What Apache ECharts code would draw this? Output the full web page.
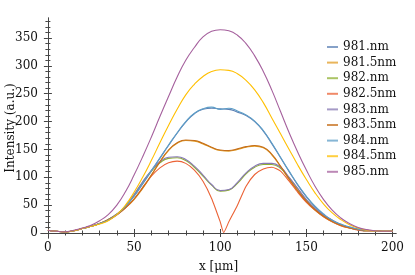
<!DOCTYPE html>
<html>
<head>
<meta charset="utf-8">
<script src="https://cdn.jsdelivr.net/npm/echarts@6/dist/echarts.min.js"></script>
<style>html,body{margin:0;padding:0;background:#fff}#c{width:415px;height:275px}</style>
</head>
<body>
<div id="c"></div>
<script>
// ---- data ----
var xs = [0,5,10,15,20,25,30,35,40,45,50,55,60,65,70,75,80,85,90,95,100,105,110,115,120,125,130,135,140,145,150,155,160,165,170,175,180,185,190,195,200];
var xsRed = [0,5,10,15,20,25,30,35,40,45,50,55,60,65,70,75,80,85,90,95,100,102,105,110,115,120,125,130,135,140,145,150,155,160,165,170,175,180,185,190,195,200];

var s981  = [5,3,2,4,8,12,17,23,33,48,66,88,111,134,157,179,199,214,222,224,223,222,217,211,200,183,160,135,110,86,65,47,33,23,15,10,7,5,4,3,3];
var s9815 = [5,3,2,4,8,12,17,24,33,45,60,80,103,127,148,161,166,165,160,153,148,147,150,154,156,153,140,119,96,75,56,41,29,20,13,9,6,4,4,3,3];
var s982  = [5,3,2,4,8,12,17,24,34,48,68,91,111,126,134,135,130,118,102,86,75,77,89,106,118,123,123,116,99,79,59,43,31,22,15,10,6,4,4,3,3];
var s9825 = [5,3,2,4,8,12,17,23,32,45,61,82,102,117,126,129,125,113,93,62,20,1,20,50,84,105,115,118,111,93,73,55,41,29,20,13,9,5,4,4,3,3];
var s983  = [5,3,2,4,8,12,17,24,34,48,69,92,112,128,136,137,132,120,104,87,76,78,91,108,120,125,125,118,100,80,60,44,32,23,15,10,6,4,4,3,3];
var s9835 = [5,3,2,4,8,12,17,24,33,45,61,81,104,128,149,162,167,166,161,154,149,148,151,155,157,154,141,120,97,76,57,42,30,21,14,9,6,4,4,3,3];
var s984  = [5,3,2,4,8,12,17,23,33,48,66,89,112,135,158,180,200,215,223,226,222,224,219,212,201,184,161,136,111,87,66,48,34,23,16,11,7,5,4,3,3];
var s9845 = [5,3,2,4,8,12,16,22,33,50,73,100,130,162,193,222,248,267,281,290,293,292,286,274,257,234,206,178,150,122,96,72,52,36,24,15,9,5,4,3,3];
var s985  = [5,3,2,5,9,14,22,33,50,74,104,137,172,209,245,280,310,333,352,362,365,363,355,340,318,290,256,218,180,145,113,84,60,41,27,17,10,6,4,3,3];

var names = ['981.nm','981.5nm','982.nm','982.5nm','983.nm','983.5nm','984.nm','984.5nm','985.nm'];
var values = [s981,s9815,s982,s9825,s983,s9835,s984,s9845,s985];
var colors = ['#5E81B5','#E19C24','#8FB032','#EB6235','#8778B3','#C56E1A','#5D9EC7','#FFBF00','#A5609D'];

var xMajor = [0,50,100,150,200];
var xMinor = [10,20,30,40,60,70,80,90,110,120,130,140,160,170,180,190];
var yMajor = [0,50,100,150,200,250,300,350];
var yMinor = [-10,10,20,30,40,60,70,80,90,110,120,130,140,160,170,180,190,210,220,230,240,260,270,280,290,310,320,330,340,360,370,380];

var X_MIN = -4, X_MAX = 202, Y_MIN = -9, Y_MAX = 386;
var FONT = "DejaVu Serif";
var FS = 12;
var frameColor = '#444';

function pairs(xv, yv){ var out=[]; for (var i=0;i<yv.length;i++) out.push([xv[i], yv[i]]); return out; }

function mkX(pos, ticks, len, labels, line){
  return {type:'value', min:X_MIN, max:X_MAX, position:pos,
    axisLine:{show:line, lineStyle:{color:frameColor, width:1}},
    axisTick:{show:true, inside:true, length:len, customValues:ticks, lineStyle:{color:frameColor}},
    axisLabel:{show:labels, customValues:ticks, color:'#111', fontFamily:FONT, fontSize:FS, margin:4},
    splitLine:{show:false}};
}
function mkY(pos, ticks, len, labels, line){
  return {type:'value', min:Y_MIN, max:Y_MAX, position:pos,
    axisLine:{show:line, lineStyle:{color:frameColor, width:1}},
    axisTick:{show:true, inside:true, length:len, customValues:ticks, lineStyle:{color:frameColor}},
    axisLabel:{show:labels, customValues:ticks, color:'#111', fontFamily:FONT, fontSize:FS, margin:3},
    splitLine:{show:false}};
}

var xAxes = [mkX('bottom', xMajor, 4, true, true), mkX('bottom', xMinor, 2.5, false, false),
             mkX('top', xMajor, 4, false, true), mkX('top', xMinor, 2.5, false, false)];
xAxes[0].name = 'x [μm]'; xAxes[0].nameLocation = 'middle'; xAxes[0].nameGap = 23;
xAxes[0].nameMoveOverlap = false;
xAxes[0].nameTextStyle = {color:'#111', fontFamily:FONT, fontSize:FS};
var yAxes = [mkY('left', yMajor, 4, true, true), mkY('left', yMinor, 2.5, false, false),
             mkY('right', yMajor, 4, false, true), mkY('right', yMinor, 2.5, false, false)];
yAxes[0].name = 'Intensity (a.u.)'; yAxes[0].nameLocation = 'middle'; yAxes[0].nameGap = 24;
yAxes[0].nameMoveOverlap = false;
yAxes[0].nameTextStyle = {color:'#111', fontFamily:FONT, fontSize:FS};

var series = names.map(function(n, i){
  return {name:n, type:'line', xAxisIndex:0, yAxisIndex:0,
    data: pairs(i===3 ? xsRed : xs, values[i]),
    showSymbol:false, symbol:'none', smooth: i===3 ? 0.2 : 0.5,
    lineStyle:{color:colors[i], width:1.1}, itemStyle:{color:colors[i]}};
});

var chart = echarts.init(document.getElementById('c'), null, {renderer:'canvas'});
chart.setOption({
  animation:false,
  color: colors,
  grid:{left:41, right:19, top:18, bottom:37, containLabel:false, outerBoundsMode:'none'},
  xAxis: xAxes,
  yAxis: yAxes,
  legend:{orient:'vertical', left:322, top:35.5, icon:'rect', itemWidth:11, itemHeight:2, itemGap:2.6,
    itemStyle:{opacity:0.75},
    textStyle:{color:'#111', fontFamily:FONT, fontSize:FS, lineHeight:13, padding:[0,0,0,0]},
    data:names},
  series: series
});
</script>
</body>
</html>
